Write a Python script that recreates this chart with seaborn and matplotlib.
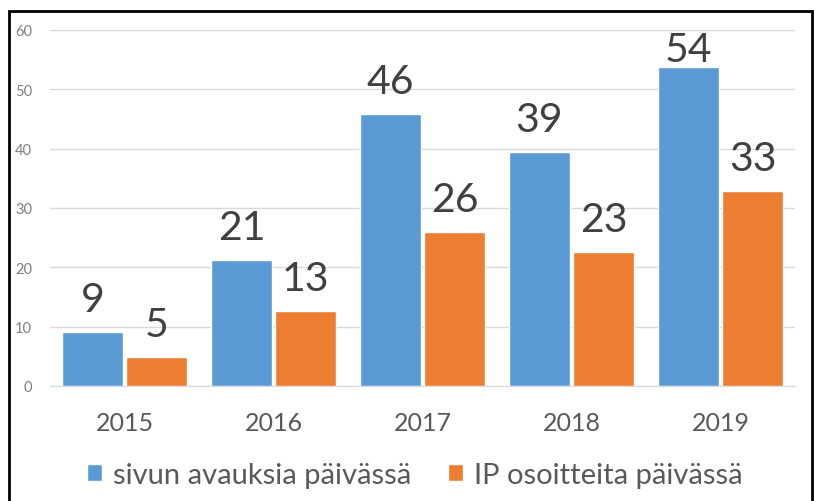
import pandas as pd
import seaborn as sns
from matplotlib import pyplot as plt
from matplotlib.patches import Rectangle


years = ['2015', '2016', '2017', '2018', '2019']
page_views = [9.1, 21.2, 45.9, 39.5, 53.7]
ip_addresses = [4.9, 12.7, 26.0, 22.6, 32.9]
page_view_labels = ['9', '21', '46', '39', '54']
ip_labels = ['5', '13', '26', '23', '33']
series_names = ['sivun avauksia päivässä', 'IP osoitteita päivässä']

df = pd.DataFrame({
    'year': years * 2,
    'value': page_views + ip_addresses,
    'series': [series_names[0]] * len(years) + [series_names[1]] * len(years),
})

sns.set_style('white')
plt.rcParams['font.family'] = ['Lato', 'DejaVu Sans']

fig = plt.figure(figsize=(8.15, 5.02), dpi=100)
ax = fig.add_axes([50 / 815, 1 - 387 / 502, 745 / 815, 356 / 502])

sns.barplot(data=df, x='year', y='value', hue='series', ax=ax,
            palette=['#5B9BD5', '#ED7D31'], width=0.86, gap=0.06,
            saturation=1, legend=True)

ax.set_ylim(0, 60)
ax.set_yticks(range(0, 61, 10))
ax.grid(axis='y', color='#D9D9D9', lw=1)
ax.set_axisbelow(True)
for side in ['top', 'right', 'left']:
    ax.spines[side].set_visible(False)
ax.spines['bottom'].set_color('#D9D9D9')
ax.set_xlabel('')
ax.set_ylabel('')
ax.tick_params(axis='y', length=0, labelsize=10.5, labelcolor='#7F7F7F', pad=13)
ax.tick_params(axis='x', length=0, labelsize=18, labelcolor='#595959', pad=18)

# data labels, pushed down where they would leave the plot area
gap = 3.5
ceiling = 60 - 5.2
for cont, labels in zip(ax.containers, [page_view_labels, ip_labels]):
    for bar, lab in zip(cont, labels):
        x = bar.get_x() + bar.get_width() / 2
        y = min(bar.get_height() + gap, ceiling)
        ax.text(x, y, lab, ha='center', va='baseline', fontsize=29.5, color='#404040')

handles, labels = ax.get_legend_handles_labels()
ax.legend_.remove()
fig.legend(handles, labels, loc='center', bbox_to_anchor=(415 / 815, 1 - 476 / 502),
           ncol=2, frameon=False, fontsize=21, handlelength=0.5, handleheight=0.5,
           handletextpad=0.4, columnspacing=1.25, labelcolor='#595959')

fig.patches.append(Rectangle((9 / 815, -0.1), 803 / 815, 1.1 - 12 / 502,
                             transform=fig.transFigure, fill=False, lw=2, ec='black'))

fig.savefig('out.png', dpi=100)
